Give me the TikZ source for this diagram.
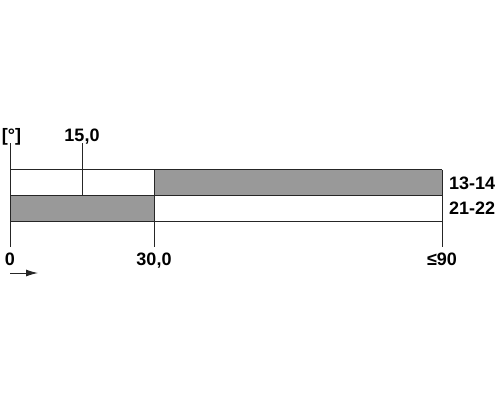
\documentclass[tikz,border=0pt]{standalone}
\usepackage{fontspec}
\setmainfont{Liberation Sans}
\usetikzlibrary{arrows.meta}
\begin{document}
\begin{tikzpicture}[x=1pt,y=-1pt,
  ln/.style={draw=black!85,line width=1pt},
  bar/.style={fill=black!40},
  lbl/.style={inner sep=0pt,anchor=base,font=\fontsize{18}{20}\selectfont\bfseries},
  lblL/.style={lbl,anchor=base west}]
\useasboundingbox (0,0) rectangle (500,400);
% fills
\fill[bar] (154,169.5) rectangle (442,195);
\fill[bar] (10,195) rectangle (154,221);
% bar outlines
\draw[ln] (10,169.5) -- (442,169.5);
\draw[ln] (10,195) -- (442,195);
\draw[ln] (10,221) -- (442,221);
% verticals
\draw[ln] (10,143) -- (10,247);
\draw[ln] (82,143) -- (82,195);
\draw[ln] (154,169.5) -- (154,247);
\draw[ln] (442,169.5) -- (442,247);
% labels
\node[lbl] (deg) at (11.5,141.5) {[°]};
\node[lbl] (l15) at (82,141) {15,0};
\node[lbl] (l0) at (10,265) {0};
\node[lbl] (l30) at (154,265) {30,0};
\node[lbl] (l90) at (442,265) {≤90};
\node[lblL] (r1) at (449,189.5) {13-14};
\node[lblL] (r2) at (449,214.5) {21-22};
% arrow
\coordinate (a0) at (10,273);
\coordinate (a1) at (38,273);
\draw[ln,-{Latex[length=12pt,width=7pt]}] (a0) -- (a1);
\end{tikzpicture}
\end{document}
